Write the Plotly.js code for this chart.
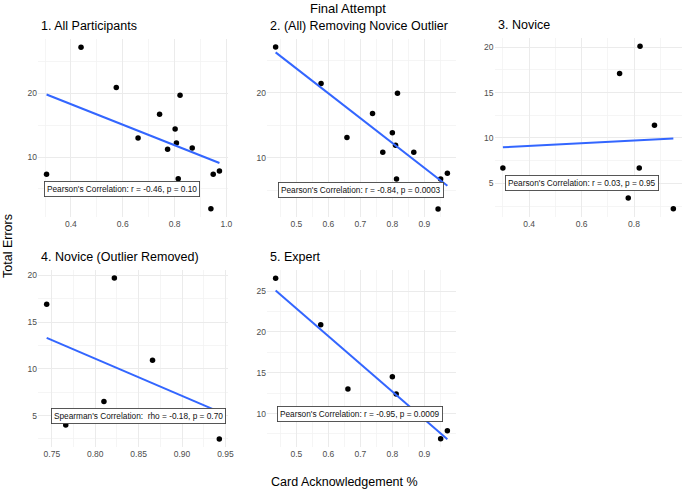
<!DOCTYPE html>
<html>
<head>
<meta charset="utf-8">
<script src="https://cdn.plot.ly/plotly-3.0.1.min.js"></script>
<style>html,body{margin:0;padding:0;background:#fff;}#chart{width:685px;height:491px;}</style>
</head>
<body>
<div id="chart"></div>
<script>
// ---- Data ----
const panelTitles = ["1. All Participants", "2. (All) Removing Novice Outlier", "3. Novice", "4. Novice (Outlier Removed)", "5. Expert"];
const corrLabels = [
  "Pearson's Correlation: r = -0.46, p = 0.10",
  "Pearson's Correlation: r = -0.84, p = 0.0003",
  "Pearson's Correlation: r = 0.03, p = 0.95",
  "Spearman's Correlation:\u00a0 rho = -0.18, p = 0.70",
  "Pearson's Correlation: r = -0.95, p = 0.0009"
];

const allX = [0.306, 0.439, 0.575, 0.659, 0.742, 0.773, 0.802, 0.807, 0.814, 0.821, 0.868, 0.940, 0.949, 0.973];
const allY = [7.3, 27.2, 20.9, 13.0, 16.7, 11.2, 14.4, 12.2, 6.6, 19.7, 11.4, 1.9, 7.3, 7.8];

const noOutlierX = [0.435, 0.577, 0.658, 0.738, 0.770, 0.800, 0.810, 0.813, 0.816, 0.867, 0.943, 0.951, 0.972];
const noOutlierY = [27.0, 21.4, 13.1, 16.8, 10.8, 13.8, 11.9, 6.7, 19.9, 10.8, 2.1, 6.7, 7.6];

const noviceX = [0.300, 0.745, 0.778, 0.820, 0.823, 0.878, 0.950];
const noviceY = [6.7, 17.1, 3.4, 6.7, 20.1, 11.4, 2.2];

const noviceNoOutX = [0.744, 0.766, 0.810, 0.822, 0.866, 0.943];
const noviceNoOutY = [16.9, 4.0, 6.5, 19.7, 10.9, 2.5];

const expertX = [0.435, 0.576, 0.661, 0.800, 0.812, 0.951, 0.972];
const expertY = [26.6, 20.9, 13.0, 14.5, 12.4, 6.9, 7.9];

const xTickLabels = [
  ["0.4", "0.6", "0.8", "1.0"],
  ["0.5", "0.6", "0.7", "0.8", "0.9"],
  ["0.4", "0.6", "0.8"],
  ["0.75", "0.80", "0.85", "0.90", "0.95"],
  ["0.5", "0.6", "0.7", "0.8", "0.9"]
];
const yTickLabels = [
  ["10", "20"],
  ["10", "20"],
  ["5", "10", "15", "20"],
  ["5", "10", "15", "20"],
  ["10", "15", "20", "25"]
];

// ---- Layout / style settings ----
const W = 685, H = 491;
const panels = [
  {xs: allX, ys: allY, px: [38, 228], py: [39, 217], xr: [0.273, 1.006], yr: [0.6, 28.5], xminor: 0.1, yminor: 5, lab: [0.598, 5]},
  {xs: noOutlierX, ys: noOutlierY, px: [267, 456], py: [39, 217], xr: [0.408, 0.999], yr: [0.85, 28.25], xminor: 0.05, yminor: 5, lab: [0.702, 5]},
  {xs: noviceX, ys: noviceY, px: [494.5, 682], py: [38, 217], xr: [0.268, 0.983], yr: [1.3, 21.0], xminor: 0.1, yminor: 2.5, lab: [0.603, 5]},
  {xs: noviceNoOutX, ys: noviceNoOutY, px: [38, 228], py: [270, 447], xr: [0.734, 0.953], yr: [1.64, 20.56], xminor: 0.025, yminor: 2.5, lab: [0.85, 5]},
  {xs: expertX, ys: expertY, px: [267, 456], py: [270, 447], xr: [0.408, 0.999], yr: [5.9, 27.6], xminor: 0.05, yminor: 2.5, lab: [0.70, 10]}
];

const FONT = "Liberation Sans, Arial, Helvetica, sans-serif";
const GRID = "#EBEBEB", MINOR = "#F3F3F3", TICKC = "#4D4D4D";

function fit(x, y) {
  const n = x.length;
  const mx = x.reduce((a, b) => a + b, 0) / n;
  const my = y.reduce((a, b) => a + b, 0) / n;
  let sxy = 0, sxx = 0;
  for (let i = 0; i < n; i++) { sxy += (x[i] - mx) * (y[i] - my); sxx += (x[i] - mx) ** 2; }
  const b = sxy / sxx;
  return {b: b, a: my - b * mx};
}

const data = [];
const layout = {
  width: W, height: H,
  margin: {l: 0, r: 0, t: 0, b: 0, pad: 0},
  paper_bgcolor: "#fff", plot_bgcolor: "#fff",
  showlegend: false,
  font: {family: FONT, color: "#000"},
  annotations: []
};

panels.forEach((p, i) => {
  const k = i + 1;
  const xa = k === 1 ? "x" : "x" + k;
  const ya = k === 1 ? "y" : "y" + k;
  const xkey = k === 1 ? "xaxis" : "xaxis" + k;
  const ykey = k === 1 ? "yaxis" : "yaxis" + k;

  data.push({
    type: "scatter", mode: "markers", x: p.xs, y: p.ys, xaxis: xa, yaxis: ya,
    marker: {color: "#000", size: 5.5}, hoverinfo: "skip", cliponaxis: false
  });
  const f = fit(p.xs, p.ys);
  const x0 = Math.min(...p.xs), x1 = Math.max(...p.xs);
  data.push({
    type: "scatter", mode: "lines", x: [x0, x1], y: [f.a + f.b * x0, f.a + f.b * x1],
    xaxis: xa, yaxis: ya, line: {color: "#3366FF", width: 2}, hoverinfo: "skip"
  });

  const xvals = xTickLabels[i].map(Number);
  const yvals = yTickLabels[i].map(Number);
  layout[xkey] = {
    domain: [p.px[0] / W, p.px[1] / W], anchor: ya, range: p.xr,
    tickmode: "array", tickvals: xvals, ticktext: xTickLabels[i],
    showgrid: true, gridcolor: GRID, gridwidth: 1, zeroline: false, showline: false, ticks: "",
    tickfont: {family: FONT, size: 8.5, color: TICKC},
    minor: {showgrid: true, gridcolor: MINOR, gridwidth: 0.8, dtick: p.xminor, tick0: 0, ticks: ""},
    fixedrange: true
  };
  layout[ykey] = {
    domain: [(H - p.py[1]) / H, (H - p.py[0]) / H], anchor: xa, range: p.yr,
    tickmode: "array", tickvals: yvals, ticktext: yTickLabels[i],
    showgrid: true, gridcolor: GRID, gridwidth: 1, zeroline: false, showline: false, ticks: "",
    tickfont: {family: FONT, size: 8.5, color: TICKC},
    minor: {showgrid: true, gridcolor: MINOR, gridwidth: 0.8, dtick: p.yminor, tick0: 0, ticks: ""},
    fixedrange: true
  };

  // panel title
  layout.annotations.push({
    xref: "paper", yref: "paper", x: (p.px[0] + 1) / W, y: (H - (p.py[0] - 13)) / H,
    xanchor: "left", yanchor: "middle", showarrow: false, text: panelTitles[i],
    font: {family: FONT, size: 12.5, color: "#000"}
  });
  // correlation label
  layout.annotations.push({
    xref: xa, yref: ya, x: p.lab[0], y: p.lab[1], xanchor: "center", yanchor: "middle",
    showarrow: false, text: corrLabels[i], bgcolor: "#fff", bordercolor: "#444", borderwidth: 0.9,
    borderpad: 2, font: {family: FONT, size: 8.3, color: "#111"}
  });
});

// overall title and axis titles
layout.annotations.push({
  xref: "paper", yref: "paper", x: 348 / W, y: (H - 8) / H, xanchor: "center", yanchor: "middle",
  showarrow: false, text: "Final Attempt", font: {family: FONT, size: 13, color: "#000"}
});
layout.annotations.push({
  xref: "paper", yref: "paper", x: 344 / W, y: (H - 482) / H, xanchor: "center", yanchor: "middle",
  showarrow: false, text: "Card Acknowledgement %", font: {family: FONT, size: 12.5, color: "#000"}
});
layout.annotations.push({
  xref: "paper", yref: "paper", x: 8 / W, y: (H - 246) / H, xanchor: "center", yanchor: "middle",
  showarrow: false, textangle: -90, text: "Total Errors", font: {family: FONT, size: 12.5, color: "#000"}
});

Plotly.newPlot("chart", data, layout, {displayModeBar: false, staticPlot: true});
</script>
</body>
</html>
